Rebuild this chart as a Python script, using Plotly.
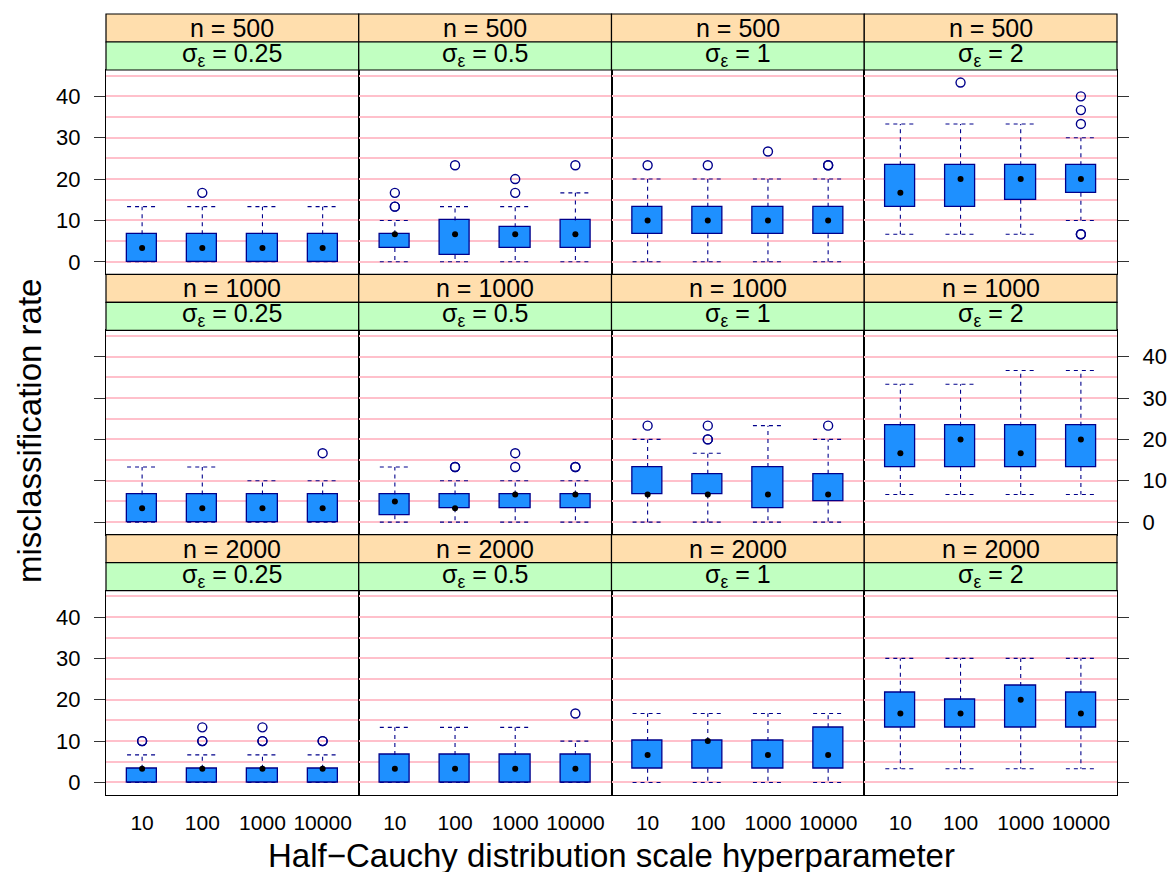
import plotly.graph_objects as go

# ---------------- data ----------------
hyper_labels = ["10", "100", "1000", "10000"]
n_labels = ["500", "1000", "2000"]
sigma_labels = ["0.25", "0.5", "1", "2"]

# one list of 4 values (hyperparameter 10,100,1000,10000) per panel,
# panels ordered row by row (n = 500, 1000, 2000) and column by column (sigma)
whisker_lo = [
    [0, 0, 0, 0], [0, 0, 0, 0], [0, 0, 0, 0], [6.67, 6.67, 6.67, 10],
    [0, 0, 0, 0], [0, 0, 0, 0], [0, 0, 0, 0], [6.67, 6.67, 6.67, 6.67],
    [0, 0, 0, 0], [0, 0, 0, 0], [0, 0, 0, 0], [3.33, 3.33, 3.33, 3.33],
]
box_q1 = [
    [0, 0, 0, 0], [3.33, 1.67, 3.33, 3.33], [6.67, 6.67, 6.67, 6.67], [13.33, 13.33, 15, 16.67],
    [0, 0, 0, 0], [1.67, 3.33, 3.33, 3.33], [6.67, 6.67, 3.33, 5], [13.33, 13.33, 13.33, 13.33],
    [0, 0, 0, 0], [0, 0, 0, 0], [3.33, 3.33, 3.33, 3.33], [13.33, 13.33, 13.33, 13.33],
]
box_median = [
    [3.33, 3.33, 3.33, 3.33], [6.67, 6.67, 6.67, 6.67], [10, 10, 10, 10], [16.67, 20, 20, 20],
    [3.33, 3.33, 3.33, 3.33], [5, 3.33, 6.67, 6.67], [6.67, 6.67, 6.67, 6.67], [16.67, 20, 16.67, 20],
    [3.33, 3.33, 3.33, 3.33], [3.33, 3.33, 3.33, 3.33], [6.67, 10, 6.67, 6.67], [16.67, 16.67, 20, 16.67],
]
box_q3 = [
    [6.67, 6.67, 6.67, 6.67], [6.67, 10, 8.33, 10], [13.33, 13.33, 13.33, 13.33], [23.33, 23.33, 23.33, 23.33],
    [6.67, 6.67, 6.67, 6.67], [6.67, 6.67, 6.67, 6.67], [13.33, 11.67, 13.33, 11.67], [23.33, 23.33, 23.33, 23.33],
    [3.33, 3.33, 3.33, 3.33], [6.67, 6.67, 6.67, 6.67], [10, 10, 10, 13.33], [21.67, 20, 23.33, 21.67],
]
whisker_hi = [
    [13.33, 13.33, 13.33, 13.33], [10, 13.33, 13.33, 16.67], [20, 20, 20, 20], [33.33, 33.33, 33.33, 30],
    [13.33, 13.33, 10, 10], [13.33, 10, 10, 10], [20, 16.67, 23.33, 20], [33.33, 33.33, 36.67, 36.67],
    [6.67, 6.67, 6.67, 6.67], [13.33, 13.33, 13.33, 10], [16.67, 16.67, 16.67, 16.67], [30, 30, 30, 30],
]
outliers = [
    [[], [16.67], [], []],
    [[13.33, 13.33, 16.67], [23.33], [16.67, 20], [23.33]],
    [[23.33], [23.33], [26.67], [23.33, 23.33]],
    [[], [43.33], [], [6.67, 6.67, 33.33, 36.67, 40]],
    [[], [], [], [16.67]],
    [[], [13.33, 13.33], [13.33, 16.67], [13.33, 13.33]],
    [[23.33], [20, 20, 23.33], [], [23.33]],
    [[], [], [], []],
    [[10, 10], [10, 10, 13.33], [10, 10, 13.33], [10, 10]],
    [[], [], [], [16.67]],
    [[], [], [], []],
    [[], [], [], []],
]
y_ticks = [0, 10, 20, 30, 40]

# ---------------- layout geometry (pixels) ----------------
W, H = 1168, 872
L, R, T, B = 106, 1117, 14, 795
STRIP = 28
NROW, NCOL = 3, 4
block = (B - T) / NROW

BLUE = "#1E90FF"
DARK = "#00008B"
PINK = "#FFC0CB"
ORANGE_STRIP = "#FFDEAD"
GREEN_STRIP = "#C1FFC1"
FONT = "Liberation Sans, Arial, Helvetica, sans-serif"


def fx(px):
    return (px - L) / (R - L)


def fy(py):
    return (B - py) / (B - T)


fig = go.Figure()
idx = list(range(len(hyper_labels)))
hw = 0.25
shapes = []
annotations = []

for r in range(NROW):
    for c in range(NCOL):
        p = r * NCOL + c
        k = p + 1
        xa = "x" if k == 1 else f"x{k}"
        ya = "y" if k == 1 else f"y{k}"

        lo, q1, med, q3, hi = whisker_lo[p], box_q1[p], box_median[p], box_q3[p], whisker_hi[p]

        # whiskers (dashed)
        wx, wy = [], []
        for i in idx:
            wx += [i, i, None, i - hw, i + hw, None, i, i, None, i - hw, i + hw, None]
            wy += [q3[i], hi[i], None, hi[i], hi[i], None, q1[i], lo[i], None, lo[i], lo[i], None]
        fig.add_trace(go.Scatter(x=wx, y=wy, mode="lines", xaxis=xa, yaxis=ya,
                                 line=dict(color=DARK, width=1.1, dash="4px,4px"),
                                 hoverinfo="skip", showlegend=False))
        # boxes
        fig.add_trace(go.Bar(x=idx, y=[q3[i] - q1[i] for i in idx], base=q1, width=0.5,
                             xaxis=xa, yaxis=ya,
                             marker=dict(color=BLUE, line=dict(color=DARK, width=1.3)),
                             showlegend=False))
        # outliers
        ox, oy = [], []
        for i in idx:
            for v in outliers[p][i]:
                ox.append(i)
                oy.append(v)
        fig.add_trace(go.Scatter(x=ox, y=oy, mode="markers", xaxis=xa, yaxis=ya,
                                 marker=dict(symbol="circle-open", size=9, color=DARK,
                                             line=dict(width=1.4, color=DARK)),
                                 showlegend=False))
        # medians
        fig.add_trace(go.Scatter(x=idx, y=med, mode="markers", xaxis=xa, yaxis=ya,
                                 marker=dict(symbol="circle", size=6, color="black"),
                                 showlegend=False))

        # geometry
        top_px = T + r * block
        ptop = top_px + 2 * STRIP
        pbot = top_px + block
        x0 = L + c * (R - L) / NCOL
        x1 = L + (c + 1) * (R - L) / NCOL

        bottom_row = (r == NROW - 1)
        fig.layout[("xaxis" if k == 1 else f"xaxis{k}")] = dict(
            domain=[fx(x0), fx(x1)], anchor=ya, range=[-0.6, 3.6],
            tickmode="array", tickvals=idx, ticktext=hyper_labels,
            showticklabels=bottom_row, ticks="outside" if bottom_row else "",
            ticklen=9, tickcolor="rgba(0,0,0,0)",
            tickfont=dict(size=21, color="black", family=FONT),
            showline=True, mirror=True, linecolor="black", linewidth=1.2,
            showgrid=False, zeroline=False, fixedrange=True,
        )
        if c == 0:
            side, ticks = "left", "outside"
            show_lab = (r % 2 == 0)
        elif c == NCOL - 1:
            side, ticks = "right", "outside"
            show_lab = (r % 2 == 1)
        else:
            side, ticks = "left", ""
            show_lab = False
        fig.layout[("yaxis" if k == 1 else f"yaxis{k}")] = dict(
            domain=[fy(pbot), fy(ptop)], anchor=xa, range=[-3.03, 46.37],
            side=side, tickmode="array", tickvals=y_ticks,
            ticks=ticks, ticklen=11, tickwidth=1.2, tickcolor="#333333",
            showticklabels=show_lab, ticklabelstandoff=9,
            tickfont=dict(size=22, color="black", family=FONT),
            showgrid=True, gridcolor=PINK, gridwidth=1.5,
            minor=dict(dtick=5, tick0=0, showgrid=True, gridcolor=PINK, gridwidth=1.5, ticks=""),
            showline=True, mirror=True, linecolor="black", linewidth=1.2,
            zeroline=False, fixedrange=True,
        )

        # strips
        for s, (col, txt) in enumerate([(ORANGE_STRIP, f"n = {n_labels[r]}"),
                                        (GREEN_STRIP, f"σ<sub>ε</sub> = {sigma_labels[c]}")]):
            sy0 = top_px + s * STRIP
            sy1 = sy0 + STRIP
            shapes.append(dict(type="rect", xref="paper", yref="paper",
                               x0=fx(x0), x1=fx(x1), y0=fy(sy1), y1=fy(sy0),
                               fillcolor=col, line=dict(color="black", width=1.2), layer="above"))
            annotations.append(dict(xref="paper", yref="paper", x=fx((x0 + x1) / 2),
                                    y=fy((sy0 + sy1) / 2 + (0 if s == 0 else -1)),
                                    text=txt, showarrow=False, xanchor="center", yanchor="middle",
                                    font=dict(size=25, color="black", family=FONT)))

annotations.append(dict(xref="paper", yref="paper", x=0.5, y=fy(855),
                        text="Half\u2212Cauchy distribution scale hyperparameter", showarrow=False,
                        xanchor="center", yanchor="middle",
                        font=dict(size=33, color="black", family=FONT)))
annotations.append(dict(xref="paper", yref="paper", x=fx(29), y=fy(431),
                        text="misclassification rate", textangle=-90, showarrow=False,
                        xanchor="center", yanchor="middle",
                        font=dict(size=33, color="black", family=FONT)))

fig.update_layout(
    width=W, height=H,
    margin=dict(l=L, r=W - R, t=T, b=H - B, autoexpand=False),
    paper_bgcolor="white", plot_bgcolor="white",
    shapes=shapes, annotations=annotations,
    showlegend=False, bargap=0,
    font=dict(family=FONT, color="black"),
)

fig.write_html("out.html", config={"displayModeBar": False},
               post_script="document.body.style.margin='0px';document.body.style.overflow='hidden';")
